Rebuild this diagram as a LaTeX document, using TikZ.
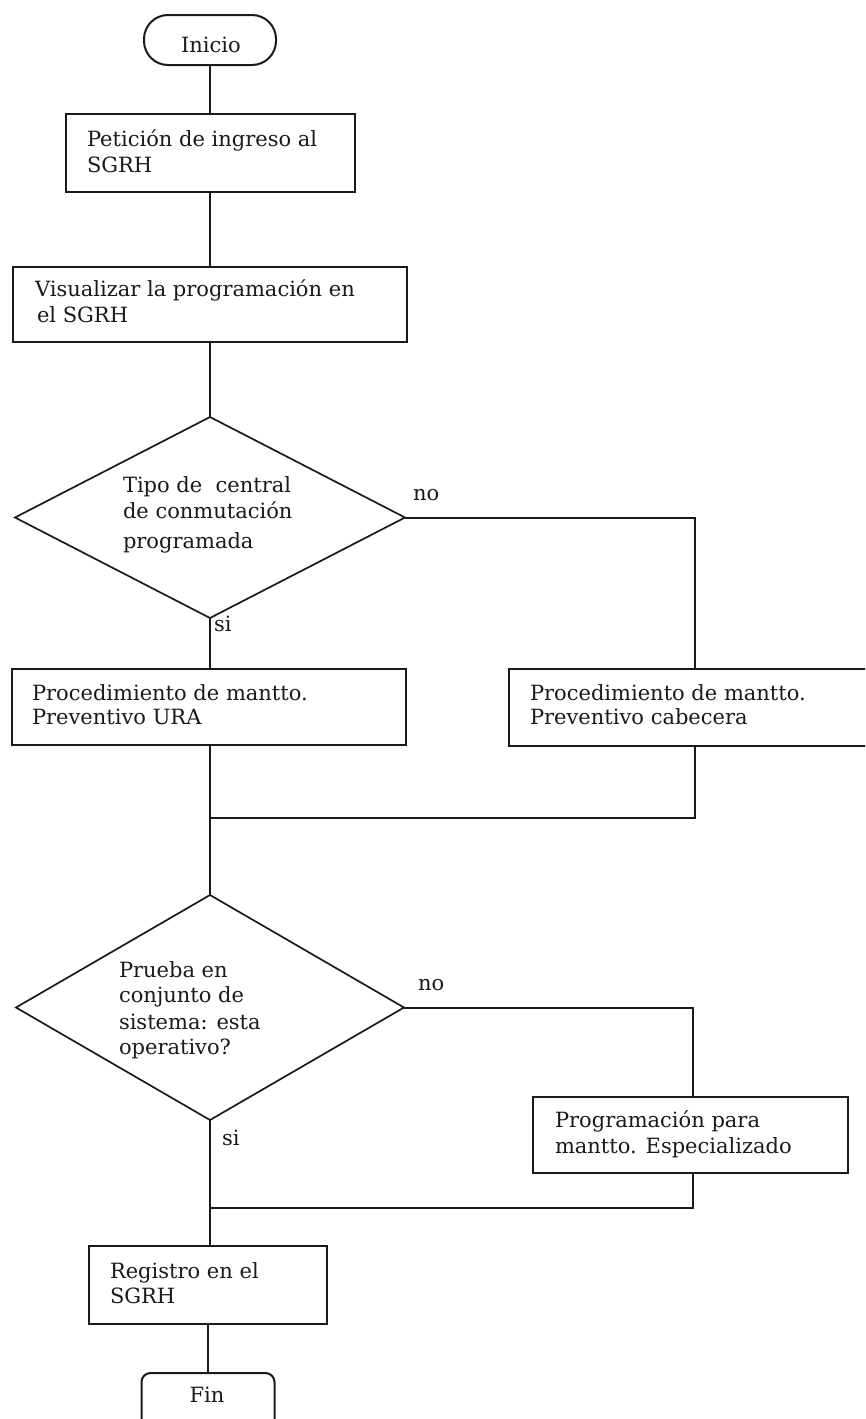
\documentclass[tikz,border=0pt]{standalone}
\usepackage{fontspec}
\setmainfont{DejaVu Serif}
\usetikzlibrary{shapes.geometric}
\definecolor{ink}{HTML}{1A1A1A}
\tikzset{
  every node/.style={inner sep=0pt, outer sep=0pt},
  procbox/.style={draw=ink, line width=2pt, rectangle},
  termbox/.style={draw=ink, line width=2pt, rectangle, rounded corners=#1},
  decision/.style={draw=ink, line width=1.7pt, diamond, shape aspect=1.9},
  txt/.style={font=\fontsize{21}{26}\selectfont, text=ink, align=left, anchor=base west},
  flow/.style={draw=ink, line width=2pt}
}
\begin{document}
\begin{tikzpicture}[x=1pt, y=-1pt]
  \clip (0,0) rectangle (865,1419);
  \fill[white] (0,0) rectangle (865,1419);

  % terminals and steps
  \node[termbox=24pt, minimum width=132pt, minimum height=50pt] (ini) at (210,40) {};
  \node[txt, anchor=base] (init) at (211,52) {Inicio};

  \node[procbox, minimum width=289pt, minimum height=78pt] (b1) at (210,153) {};
  \node[txt] (b1t) at (87,146) {Petición de ingreso al};
  \node[txt] (b1u) at (87,172) {SGRH};

  \node[procbox, minimum width=394pt, minimum height=75pt] (b2) at (210,304.5) {};
  \node[txt] (b2t) at (35,296) {Visualizar la programación en};
  \node[txt] (b2u) at (37,322) {el SGRH};

  % first decision
  \node[decision, minimum width=390pt, minimum height=201pt] (d1) at (210,517.5) {};
  \node[txt] (d1t) at (123,492) {Tipo de\ \ central};
  \node[txt] (d1u) at (123,518) {de conmutación};
  \node[txt] (d1v) at (123,548) {programada};
  \node[txt] (no1) at (413,500) {no};
  \node[txt] (si1) at (214,631) {si};
  \coordinate (c1) at (695,517.5);

  \node[procbox, minimum width=394pt, minimum height=76pt] (b3) at (209,707) {};
  \node[txt] (b3t) at (32,700) {Procedimiento de mantto.};
  \node[txt] (b3u) at (32,724) {Preventivo URA};

  \node[procbox, minimum width=380pt, minimum height=77pt] (b4) at (699,707.5) {};
  \node[txt] (b4t) at (530,700) {Procedimiento de mantto.};
  \node[txt] (b4u) at (530,724) {Preventivo cabecera};

  \coordinate (m1) at (210,818);

  % second decision
  \node[decision, minimum width=388pt, minimum height=225pt] (d2) at (210,1007.5) {};
  \node[txt] (d2t) at (119,977) {Prueba en};
  \node[txt] (d2u) at (119,1002) {conjunto de};
  \node[txt] (d2v) at (119,1029) {sistema: esta};
  \node[txt] (d2w) at (119,1054) {operativo?};
  \node[txt] (no2) at (418,990) {no};
  \node[txt] (si2) at (222,1145) {si};
  \coordinate (c2) at (693,1007.5);

  \node[procbox, minimum width=315pt, minimum height=76pt] (b5) at (690.5,1135) {};
  \node[txt] (b5t) at (555,1127) {Programación para};
  \node[txt] (b5u) at (555,1153) {mantto. Especializado};

  \coordinate (m2) at (210,1208);

  \node[procbox, minimum width=238pt, minimum height=78pt] (b6) at (208,1285) {};
  \node[txt] (b6t) at (110,1278) {Registro en el};
  \node[txt] (b6u) at (110,1303) {SGRH};

  \node[termbox=9pt, minimum width=133pt, minimum height=90pt] (fin) at (208,1418) {};
  \node[txt, anchor=base] (fint) at (207,1402) {Fin};

  % connectors
  \draw[flow] (ini.south) -- (b1.north);
  \draw[flow] (b1.south) -- (b2.north);
  \draw[flow] (b2.south) -- (d1.north);
  \draw[flow] (d1.south) -- (d1.south |- b3.north);
  \draw[flow] (d1.east) -- (c1) -- (c1 |- b4.north);
  \draw[flow] (d1.south |- b3.south) -- (m1);
  \draw[flow] (c1 |- b4.south) -- (c1 |- m1) -- (m1);
  \draw[flow] (m1) -- (d2.north);
  \draw[flow] (d2.east) -- (c2) -- (c2 |- b5.north);
  \draw[flow] (c2 |- b5.south) -- (c2 |- m2) -- (m2);
  \draw[flow] (d2.south) -- (m2) -- (m2 |- b6.north);
  \draw[flow] (b6.south) -- (fin.north);
\end{tikzpicture}
\end{document}
